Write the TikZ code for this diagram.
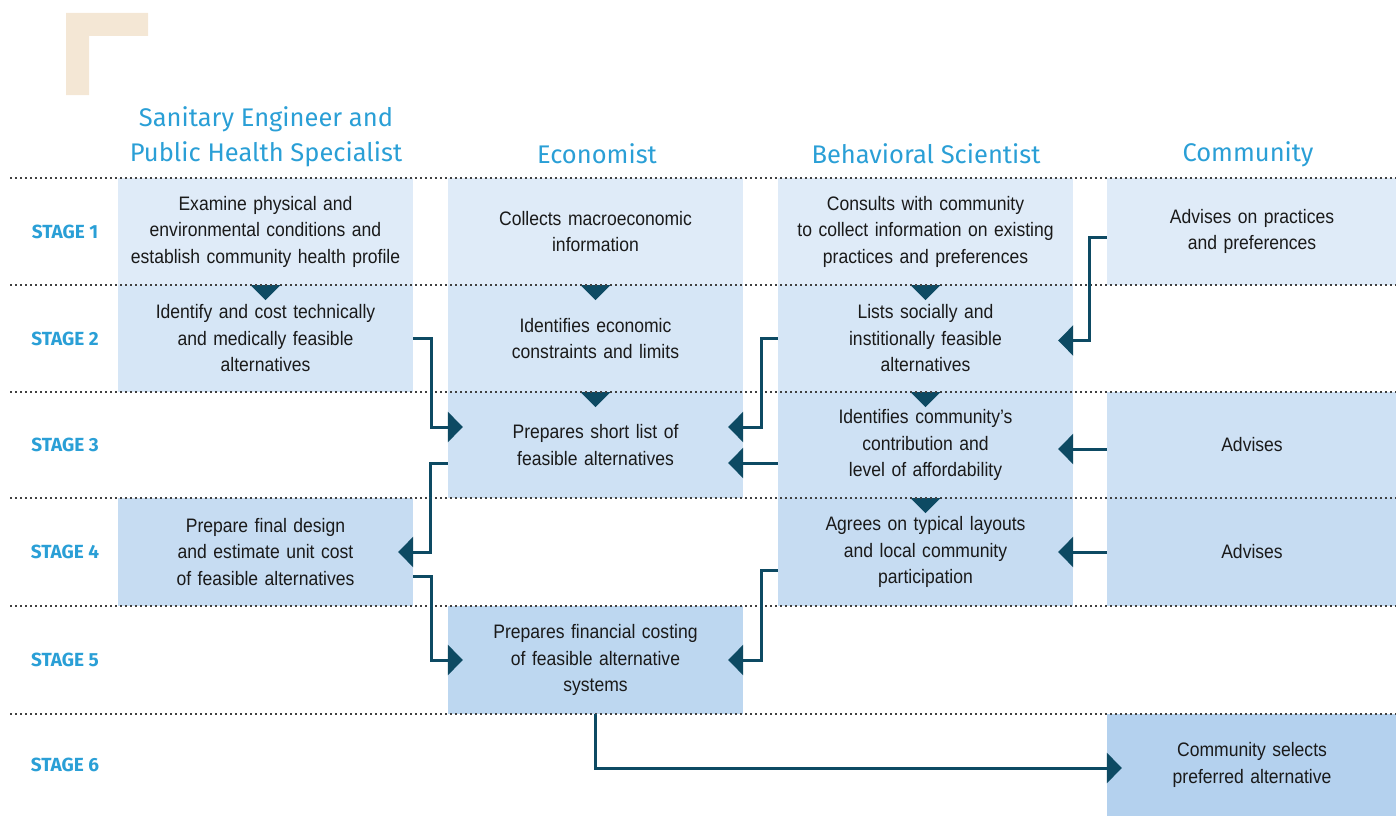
\documentclass[tikz,border=0pt]{standalone}
\usepackage{fontspec}
\setmainfont[FakeStretch=0.9]{Liberation Sans}
\newfontfamily\headfont{Fira Sans}
\usepackage{tikz}
\usetikzlibrary{arrows.meta,positioning}
\definecolor{rowA}{HTML}{DFEBF8}
\definecolor{rowB}{HTML}{D6E6F6}
\definecolor{rowC}{HTML}{CEE1F4}
\definecolor{rowD}{HTML}{C6DCF2}
\definecolor{rowE}{HTML}{BDD7F0}
\definecolor{rowF}{HTML}{B4D1EE}
\definecolor{flowblue}{HTML}{0D4A63}
\definecolor{headcyan}{HTML}{2A9FD6}
\definecolor{beige}{HTML}{F4E7D5}
\definecolor{ink}{HTML}{1A1A1A}
\tikzstyle{box}=[rectangle,minimum width=295pt,minimum height=107pt,inner sep=0pt,
  text width=290pt,align=center,text=ink,font=\fontsize{19.5}{26.5}\selectfont]
\tikzstyle{cbox}=[box,minimum width=288pt]
\tikzstyle{head}=[text=headcyan,align=center,font=\headfont\fontsize{25.5}{35}\selectfont]
\tikzstyle{stage}=[text=headcyan,font=\headfont\bfseries\fontsize{19}{22}\selectfont]
\tikzstyle{flow}=[line width=3pt,draw=flowblue,-{Triangle[length=15pt,width=30pt]},shorten >=-15pt]
\newcommand{\drop}[1]{\fill[flowblue] ([xshift=-15pt]#1.south) -- ([xshift=15pt]#1.south) -- ([yshift=-15pt]#1.south) -- cycle;}

\begin{document}
\begin{tikzpicture}[x=1pt,y=-1pt]
    \useasboundingbox (0,0) rectangle (1396,816);
    \fill[beige] (66,13) -- (148,13) -- (148,36) -- (89,36) -- (89,95) -- (66,95) -- cycle;

    \node[head](hsan) at (266,136.5){Sanitary Engineer and\\Public Health Specialist};
    \node[head](heco) at (597,154){Economist};
    \node[head](hbeh) at (926,154){Behavioral Scientist};
    \node[head](hcom) at (1248,154){Community};

    \node[stage](st1) at (65,231.5){STAGE 1};
    \node[stage](st2) at (65,338.5){STAGE 2};
    \node[stage](st3) at (65,445){STAGE 3};
    \node[stage](st4) at (65,552){STAGE 4};
    \node[stage](st5) at (65,660){STAGE 5};
    \node[stage](st6) at (65,765){STAGE 6};

    \node[box,fill=rowA](san1) at (265.5,231.5){Examine physical and\\environmental conditions and\\establish community health profile};
    \node[box,fill=rowA](eco1) at (595.5,231.5){Collects macroeconomic\\information};
    \node[box,fill=rowA](beh1) at (925.5,231.5){Consults with community\\to collect information on existing\\practices and preferences};
    \node[cbox,fill=rowA](com1) at (1252,231.5){Advises on practices\\and preferences};

    \node[box,fill=rowB](san2) at (265.5,338.5){Identify and cost technically\\and medically feasible\\alternatives};
    \node[box,fill=rowB](eco2) at (595.5,338.5){Identifies economic\\constraints and limits};
    \node[box,fill=rowB](beh2) at (925.5,338.5){Lists socially and\\institionally feasible\\alternatives};

    \node[box,fill=rowC,minimum height=106pt](eco3) at (595.5,445){Prepares short list of\\feasible alternatives};
    \node[box,fill=rowC,minimum height=106pt](beh3) at (925.5,445){Identifies community’s\\contribution and\\level of affordability};
    \node[cbox,fill=rowC,minimum height=106pt](com3) at (1252,445){Advises};

    \node[box,fill=rowD,minimum height=108pt](san4) at (265.5,552){Prepare final design\\and estimate unit cost\\of feasible alternatives};
    \node[box,fill=rowD,minimum height=108pt](beh4) at (925.5,552){Agrees on typical layouts\\and local community\\participation};
    \node[cbox,fill=rowD,minimum height=108pt](com4) at (1252,552){Advises};

    \node[box,fill=rowE,minimum height=108pt](eco5) at (595.5,660){Prepares financial costing\\of feasible alternative\\systems};

    \node[cbox,fill=rowF,minimum height=102pt](com6) at (1252,765){Community selects\\preferred alternative};

    % arrows down between stages
    \drop{san1}
    \drop{eco1}
    \drop{eco2}
    \drop{beh1}
    \drop{beh2}
    \drop{beh3}

    \foreach \y in {178,285,392,498,606,714}
      \draw[line width=1.8pt,color=black!75,dash pattern=on 1.8pt off 3.2pt] (10,\y) -- (1396,\y);

    \draw[flow] (san2.east) -- ++(18,0) |- ([yshift=18pt]eco3.west);
    \draw[flow] (beh2.west) -- ++(-16,0) |- ([yshift=18pt]eco3.east);
    \draw[flow] ([yshift=-18pt]beh3.west) -- ([yshift=-18pt]eco3.east);
    \draw[flow] ([yshift=-18pt]eco3.west) -- ++(-17,0) |- (san4.east);
    \draw[flow] ([yshift=-24pt]san4.east) -- ++(18,0) |- (eco5.west);
    \draw[flow] ([yshift=-18pt]beh4.west) -- ++(-16,0) |- (eco5.east);
    \draw[flow] ([yshift=-4pt]com3.west) -- ([yshift=-4pt]beh3.east);
    \draw[flow] (com4.west) -- (beh4.east);
    \draw[flow] ([yshift=-6pt]com1.west) -- ++(-17,0) |- ([yshift=-2pt]beh2.east);
    \draw[flow] (eco5.south) |- ([yshift=-3pt]com6.west);
\end{tikzpicture}
\end{document}
